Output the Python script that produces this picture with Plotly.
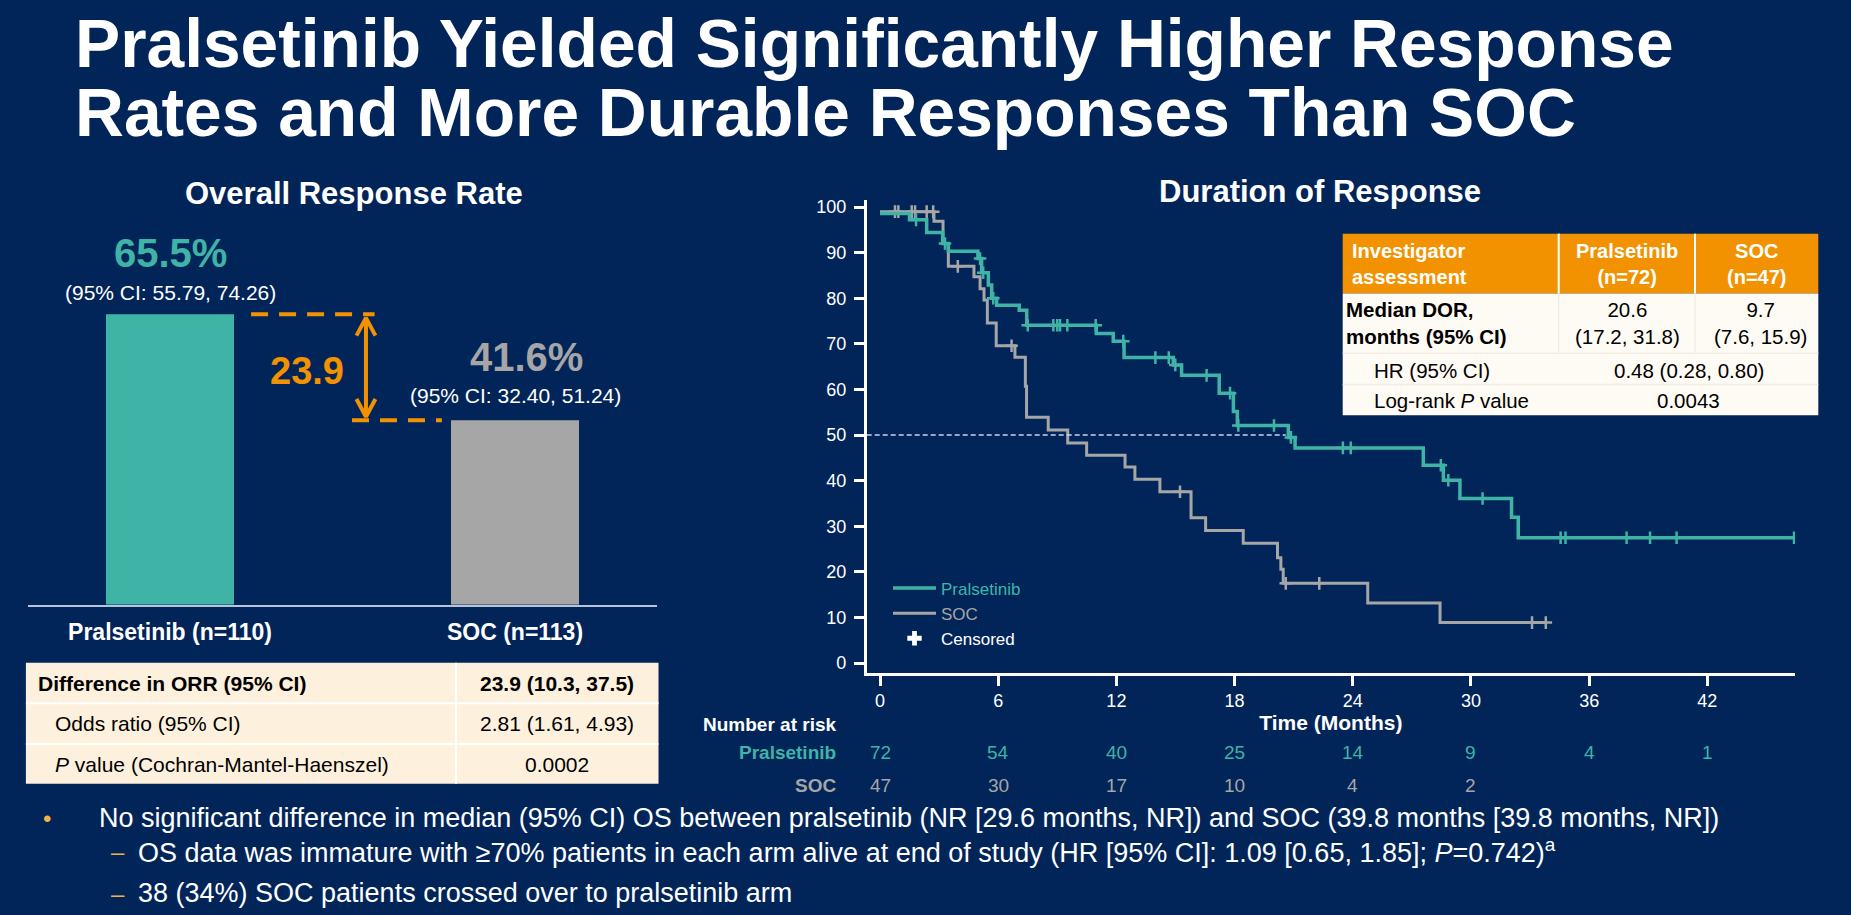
import numpy as np
import plotly.graph_objects as go

W, H = 1851, 915
BG = '#022559'
TEAL = '#3fb3a6'
GRAY = '#a6a6a6'
ORANGE = '#f39200'
CREAM = '#fdf1dd'
WHITE = '#ffffff'
FONT = 'Arial, Liberation Sans, Helvetica, sans-serif'

# ---------------- data ----------------
title_lines = ['Pralsetinib Yielded Significantly Higher Response',
               'Rates and More Durable Responses Than SOC']
orr_title = 'Overall Response Rate'
dor_title = 'Duration of Response'

orr_groups = ['Pralsetinib (n=110)', 'SOC (n=113)']
orr_values = [65.5, 41.6]
orr_labels = ['65.5%', '41.6%']
orr_ci = ['(95% CI: 55.79, 74.26)', '(95% CI: 32.40, 51.24)']
orr_diff = 23.9

orr_table_rows = [
    ('<b>Difference in ORR (95% CI)</b>', '<b>23.9 (10.3, 37.5)</b>'),
    ('Odds ratio (95% CI)', '2.81 (1.61, 4.93)'),
    ('<i>P</i> value (Cochran-Mantel-Haenszel)', '0.0002'),
]

# Kaplan-Meier step data (months, % in response)
km_prals_t = [0, 1.50, 2.37, 3.18, 3.47, 4.97, 5.16, 5.50, 5.67, 5.92, 7.07, 7.45,
              10.98, 11.84, 12.39, 14.89, 15.31, 17.22, 17.94, 18.14, 20.73, 21.07,
              27.58, 28.60, 29.44, 32.06, 32.40, 46.45]
km_prals_s = [98.6, 97.2, 94.4, 92.0, 90.3, 88.7, 85.6, 82.9, 80.0, 78.5, 77.4, 74.1,
              72.3, 70.6, 67.0, 65.4, 63.1, 59.2, 55.2, 52.1, 49.5, 47.2,
              43.4, 40.1, 36.1, 32.0, 27.5, 27.5]
km_soc_t = [0, 2.74, 3.20, 3.47, 4.77, 5.08, 5.28, 5.45, 5.90, 6.85, 7.38, 7.44, 8.54,
            9.53, 10.49, 12.44, 12.94, 14.21, 15.79, 16.53, 18.44, 20.18, 20.35, 20.47,
            24.76, 28.43, 33.80]
km_soc_s = [99.0, 96.9, 92.0, 87.0, 84.7, 82.1, 79.6, 74.6, 69.6, 67.1, 60.7, 53.9, 51.1,
            48.3, 45.6, 43.0, 40.3, 37.6, 31.9, 29.1, 26.3, 23.1, 20.6, 17.5,
            13.2, 8.9, 8.9]
cens_prals_t = [1.83, 3.30, 5.08, 5.24, 5.75, 7.50, 8.80, 9.00, 9.14, 9.51, 10.95, 12.35,
                13.98, 14.66, 14.99, 16.58, 17.77, 18.19, 20.00, 20.86, 23.50, 23.90,
                28.47, 28.85, 30.59, 34.55, 34.80, 37.90, 39.09, 40.44, 46.40]
cens_soc_t = [0.76, 0.93, 1.61, 1.78, 2.37, 2.70, 3.95, 6.68, 15.23, 20.60, 22.30,
              33.10, 33.80]
median_prals = 20.6

x_ticks = [0, 6, 12, 18, 24, 30, 36, 42]
y_ticks = [0, 10, 20, 30, 40, 50, 60, 70, 80, 90, 100]
risk_times = [0, 6, 12, 18, 24, 30, 36, 42]
risk_prals = [72, 54, 40, 25, 14, 9, 4, 1]
risk_soc = [47, 30, 17, 10, 4, 2]

dor_header = ['Investigator<br>assessment', 'Pralsetinib<br>(n=72)', 'SOC<br>(n=47)']
dor_median = ['<b>Median DOR,<br>months (95% CI)</b>', '20.6<br>(17.2, 31.8)', '9.7<br>(7.6, 15.9)']
dor_hr = ['HR (95% CI)', '0.48 (0.28, 0.80)']
dor_p = ['Log-rank <i>P</i> value', '0.0043']

bullets = [
    ('•', 'No significant difference in median (95% CI) OS between pralsetinib (NR [29.6 months, NR]) '
          'and SOC (39.8 months [39.8 months, NR])'),
    ('–', 'OS data was immature with ≥70% patients in each arm alive at end of study '
          '(HR [95% CI]: 1.09 [0.65, 1.85]; <i>P</i>=0.742)<sup>a</sup>'),
    ('–', '38 (34%) SOC patients crossed over to pralsetinib arm'),
]


# ---------------- helpers ----------------
def px(x):
    return x / W


def py(y):
    return 1 - y / H


def step_at(ts, ss, c):
    i = np.searchsorted(np.array(ts), np.array(c), side='right') - 1
    return list(np.array(ss)[i])


fig = go.Figure()
ann = []
shapes = []

# ---------------- Left: ORR bar chart ----------------
bar_x = list(range(len(orr_groups)))
fig.add_trace(go.Bar(x=bar_x, y=orr_values, marker=dict(color=[TEAL, GRAY], line=dict(width=0)),
                     width=0.371, xaxis='x2', yaxis='y2', showlegend=False, hoverinfo='skip'))

lab_dy = [61, 63]
lab_dx = [0, 11]
ci_dy = [22, 25]
for i, v in enumerate(orr_values):
    ann.append(dict(x=bar_x[i], y=v, xref='x2', yref='y2', text='<b>%s</b>' % orr_labels[i],
                    showarrow=False, yshift=lab_dy[i], xshift=lab_dx[i], yanchor='middle',
                    font=dict(size=40, color=[TEAL, GRAY][i], family=FONT)))
    ann.append(dict(x=bar_x[i], y=v, xref='x2', yref='y2', text=orr_ci[i],
                    showarrow=False, yshift=ci_dy[i], yanchor='middle',
                    font=dict(size=21, color=WHITE, family=FONT)))

hi, lo = orr_values[0], orr_values[1]
shapes.append(dict(type='line', xref='x2', yref='y2', x0=0.235, x1=0.593, y0=hi, y1=hi,
                   line=dict(color=ORANGE, width=4, dash='17px,11px')))
shapes.append(dict(type='line', xref='x2', yref='y2', x0=0.5275, x1=0.788, y0=lo, y1=lo,
                   line=dict(color=ORANGE, width=4, dash='17px,11px')))
ax = 0.568
hx, hy = 0.0275, 4.0
tip_hi, tip_lo = hi - 0.8, lo + 0.8
fig.add_trace(go.Scatter(
    x=[ax, ax, None, ax - hx, ax, ax + hx, None, ax - hx, ax, ax + hx],
    y=[tip_lo, tip_hi, None, tip_hi - hy, tip_hi, tip_hi - hy, None, tip_lo + hy, tip_lo, tip_lo + hy],
    mode='lines', line=dict(color=ORANGE, width=4), xaxis='x2', yaxis='y2',
    showlegend=False, hoverinfo='skip'))
ann.append(dict(x=0.397, y=(hi + lo) / 2, xref='x2', yref='y2', text='<b>%.1f</b>' % orr_diff,
                showarrow=False, yshift=-4, font=dict(size=38, color=ORANGE, family=FONT)))

# ORR table
t_l, t_r, t_t, t_b, t_c = 25.9, 658.5, 662.7, 784.3, 456
row_b = [703.3, 744.3]
shapes.append(dict(type='rect', xref='paper', yref='paper', x0=px(t_l), x1=px(t_r), y0=py(t_b), y1=py(t_t),
                   fillcolor=CREAM, line=dict(width=0), layer='below'))
for yb in row_b:
    shapes.append(dict(type='line', xref='paper', yref='paper', x0=px(t_l), x1=px(t_r), y0=py(yb), y1=py(yb),
                       line=dict(color=WHITE, width=2)))
shapes.append(dict(type='line', xref='paper', yref='paper', x0=px(t_c), x1=px(t_c), y0=py(t_b), y1=py(t_t),
                   line=dict(color=WHITE, width=2)))
row_c = [683.3, 724, 764.5]
row_x = [35.7, 52.7, 52.7]
for i, (a, b) in enumerate(orr_table_rows):
    ann.append(dict(x=px(row_x[i]), y=py(row_c[i]), xref='paper', yref='paper', text=a, showarrow=False,
                    xanchor='left', yanchor='middle', font=dict(size=21, color='#000000', family=FONT)))
    ann.append(dict(x=px((t_c + t_r) / 2), y=py(row_c[i]), xref='paper', yref='paper', text=b, showarrow=False,
                    xanchor='center', yanchor='middle', font=dict(size=21, color='#000000', family=FONT)))

# ---------------- Right: KM ----------------
fig.add_trace(go.Scatter(x=km_soc_t, y=km_soc_s, mode='lines', line=dict(color=GRAY, width=3, shape='hv'),
                         name='<span style="color:%s">SOC</span>' % GRAY, legendrank=2, hoverinfo='skip'))
fig.add_trace(go.Scatter(x=cens_soc_t, y=step_at(km_soc_t, km_soc_s, cens_soc_t), mode='markers',
                         marker=dict(symbol='cross-thin-open', size=9, color=GRAY,
                                     line=dict(color=GRAY, width=2.5)),
                         showlegend=False, hoverinfo='skip'))
fig.add_trace(go.Scatter(x=km_prals_t, y=km_prals_s, mode='lines', line=dict(color=TEAL, width=3.5, shape='hv'),
                         name='<span style="color:%s">Pralsetinib</span>' % TEAL, legendrank=1, hoverinfo='skip'))
fig.add_trace(go.Scatter(x=cens_prals_t, y=step_at(km_prals_t, km_prals_s, cens_prals_t), mode='markers',
                         marker=dict(symbol='cross-thin-open', size=9, color=TEAL,
                                     line=dict(color=TEAL, width=2.5)),
                         showlegend=False, hoverinfo='skip'))
fig.add_trace(go.Scatter(x=[None], y=[None], mode='markers', name='Censored', legendrank=3,
                         marker=dict(symbol='cross', size=12, color=WHITE), hoverinfo='skip'))

x_range = [-0.675, 46.45]
y_range = [-2.1, 101.5]
shapes.append(dict(type='line', xref='x', yref='y', x0=x_range[0], x1=median_prals, y0=50, y1=50,
                   line=dict(color='#cdd6ea', width=1.5, dash='5px,3px')))

# DOR table
d_l, d_r, d_t, d_h, d_b = 1342.7, 1818.3, 231.7, 291.7, 414
d_c1, d_c2 = 1558.7, 1695
d_rows = [351.7, 383.3]
shapes.append(dict(type='rect', xref='paper', yref='paper', x0=px(d_l), x1=px(d_r), y0=py(d_h), y1=py(d_t),
                   fillcolor='#f39200', line=dict(width=0)))
shapes.append(dict(type='rect', xref='paper', yref='paper', x0=px(d_l), x1=px(d_r), y0=py(d_b), y1=py(d_h),
                   fillcolor='#fefaf4', line=dict(width=0)))
for xc in (d_c1, d_c2):
    shapes.append(dict(type='line', xref='paper', yref='paper', x0=px(xc), x1=px(xc), y0=py(d_h), y1=py(d_t),
                       line=dict(color=WHITE, width=2)))
    shapes.append(dict(type='line', xref='paper', yref='paper', x0=px(xc), x1=px(xc), y0=py(d_rows[0]), y1=py(d_h),
                       line=dict(color='#f3ede4', width=1.5)))
for yr in d_rows:
    shapes.append(dict(type='line', xref='paper', yref='paper', x0=px(d_l), x1=px(d_r), y0=py(yr), y1=py(yr),
                       line=dict(color='#f3ede4', width=1.5)))
hdr_x = [(1350, 'left'), ((d_c1 + d_c2) / 2, 'center'), ((d_c2 + d_r) / 2, 'center')]
for (xx, anc), txt in zip(hdr_x, dor_header):
    ann.append(dict(x=px(xx), y=py(262.5), xref='paper', yref='paper', text='<b>%s</b>' % txt, showarrow=False,
                    xanchor=anc, yanchor='middle', align=anc, font=dict(size=20, color=WHITE, family=FONT)))
med_x = [(1343.5, 'left'), (1627, 'center'), (1760, 'center')]
for (xx, anc), txt in zip(med_x, dor_median):
    ann.append(dict(x=px(xx), y=py(321.5), xref='paper', yref='paper', text=txt, showarrow=False,
                    xanchor=anc, yanchor='middle', align=anc, font=dict(size=20.5, color='#000000', family=FONT)))
for yy, row in ((369.5, dor_hr), (399.5, dor_p)):
    ann.append(dict(x=px(1371.7), y=py(yy), xref='paper', yref='paper', text=row[0], showarrow=False,
                    xanchor='left', yanchor='middle', font=dict(size=20.5, color='#000000', family=FONT)))
    ann.append(dict(x=px((d_c1 + d_r) / 2), y=py(yy), xref='paper', yref='paper', text=row[1], showarrow=False,
                    xanchor='center', yanchor='middle', font=dict(size=20.5, color='#000000', family=FONT)))

# Number at risk
ann.append(dict(x=px(838), y=py(725), xref='paper', yref='paper', text='<b>Number at risk</b>', showarrow=False,
                xanchor='right', yanchor='middle', font=dict(size=19, color=WHITE, family=FONT)))
ann.append(dict(x=px(838), y=py(753), xref='paper', yref='paper', text='<b>Pralsetinib</b>', showarrow=False,
                xanchor='right', yanchor='middle', font=dict(size=19, color=TEAL, family=FONT)))
ann.append(dict(x=px(838), y=py(786), xref='paper', yref='paper', text='<b>SOC</b>', showarrow=False,
                xanchor='right', yanchor='middle', font=dict(size=19, color=GRAY, family=FONT)))
for t, n in zip(risk_times, risk_prals):
    ann.append(dict(x=t, y=py(753), xref='x', yref='paper', text=str(n), showarrow=False,
                    xanchor='center', yanchor='middle', font=dict(size=19, color=TEAL, family=FONT)))
for t, n in zip(risk_times, risk_soc):
    ann.append(dict(x=t, y=py(786), xref='x', yref='paper', text=str(n), showarrow=False,
                    xanchor='center', yanchor='middle', font=dict(size=19, color=GRAY, family=FONT)))

# Titles
ann.append(dict(x=px(73), y=py(40.8), xref='paper', yref='paper', text='<b>%s</b>' % title_lines[0],
                showarrow=False, xanchor='left', yanchor='middle', font=dict(size=67.7, color=WHITE, family=FONT)))
ann.append(dict(x=px(73), y=py(109.8), xref='paper', yref='paper', text='<b>%s</b>' % title_lines[1],
                showarrow=False, xanchor='left', yanchor='middle', font=dict(size=67.7, color=WHITE, family=FONT)))
ann.append(dict(x=px(353.6), y=py(191), xref='paper', yref='paper', text='<b>%s</b>' % orr_title,
                showarrow=False, xanchor='center', yanchor='middle', font=dict(size=31, color=WHITE, family=FONT)))
ann.append(dict(x=px(1320.4), y=py(189), xref='paper', yref='paper', text='<b>%s</b>' % dor_title,
                showarrow=False, xanchor='center', yanchor='middle', font=dict(size=31, color=WHITE, family=FONT)))

# Bullets
b_y = [819, 852, 894]
b_mx = [46.6, 118, 118]
b_tx = [96.8, 136, 136]
for i, (m, txt) in enumerate(bullets):
    ann.append(dict(x=px(b_mx[i]), y=py(b_y[i]), xref='paper', yref='paper', text=m, showarrow=False,
                    xanchor='center', yanchor='middle', font=dict(size=24, color='#f5b04a', family=FONT)))
    ann.append(dict(x=px(b_tx[i]), y=py(b_y[i]), xref='paper', yref='paper', text=txt, showarrow=False,
                    xanchor='left', yanchor='middle', font=dict(size=27, color=WHITE, family=FONT)))

fig.update_layout(
    width=W, height=H, margin=dict(l=0, r=0, t=0, b=0),
    paper_bgcolor=BG, plot_bgcolor=BG,
    font=dict(family=FONT, color=WHITE),
    showlegend=True,
    legend=dict(x=px(888), y=py(570), xanchor='left', yanchor='top', bgcolor='rgba(0,0,0,0)',
                font=dict(size=17, color=WHITE, family=FONT), tracegroupgap=0, itemwidth=43),
    xaxis=dict(domain=[px(866.7), px(1795)], range=x_range, showgrid=False, zeroline=False,
               showline=True, linecolor=WHITE, linewidth=2.5, ticks='outside', ticklen=10, tickwidth=2.5,
               tickcolor=WHITE, tickvals=x_ticks, tickfont=dict(size=18, color=WHITE),
               title=dict(text='<b>Time (Months)</b>', font=dict(size=21, color=WHITE), standoff=2),
               anchor='y'),
    yaxis=dict(domain=[py(672.7), py(198.1)], range=y_range, showgrid=False, zeroline=False,
               showline=True, linecolor=WHITE, linewidth=2.5, ticks='outside', ticklen=10, tickwidth=2.5,
               tickcolor=WHITE, tickvals=y_ticks, tickfont=dict(size=18, color=WHITE),
               ticklabelstandoff=4, anchor='x'),
    xaxis2=dict(domain=[px(28), px(657)], range=[-0.4116, 1.4116], showgrid=False, zeroline=False,
                showline=True, linecolor='#b8c4da', linewidth=2, ticks='', tickvals=bar_x,
                ticktext=['<b>%s</b>' % g for g in orr_groups], tickfont=dict(size=23, color=WHITE),
                ticklabelstandoff=6, anchor='y2'),
    yaxis2=dict(domain=[py(604.3), py(159.1)], range=[0, 100], visible=False, anchor='x2'),
    annotations=ann, shapes=shapes,
)

fig.write_html('out.html')
